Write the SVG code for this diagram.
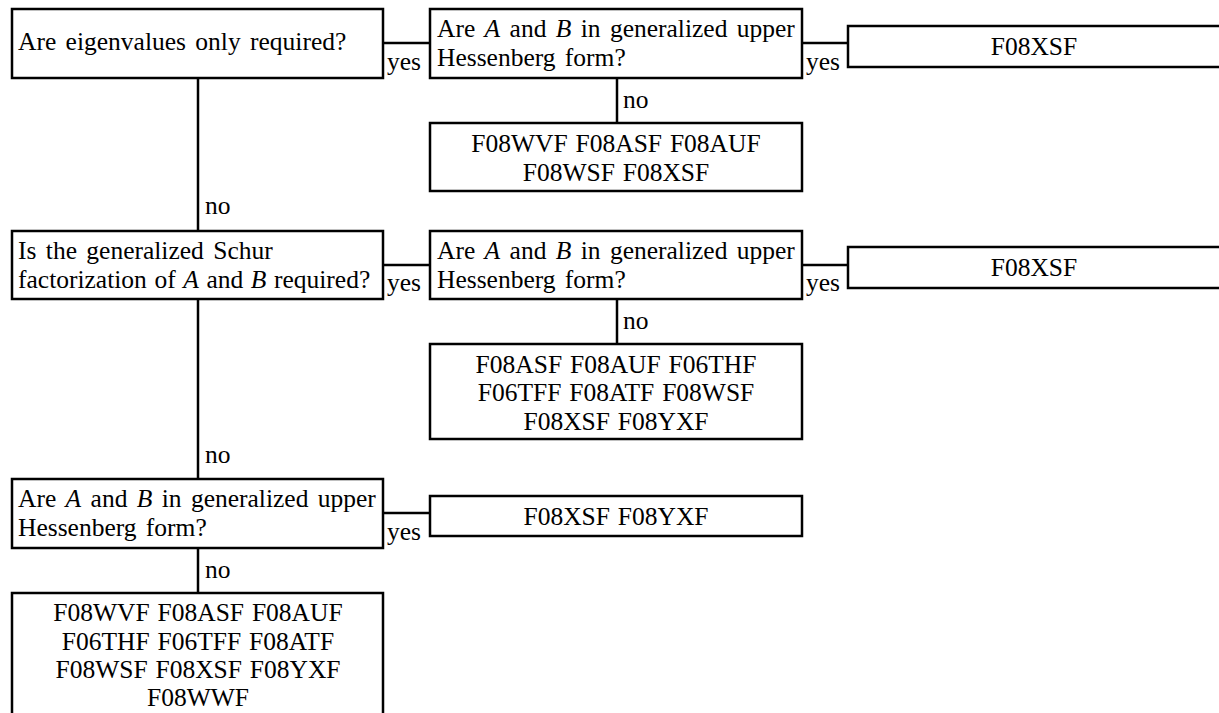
<svg xmlns="http://www.w3.org/2000/svg" width="1219" height="713" viewBox="0 0 1219 713">
<style>
rect{fill:#fff;stroke:#000;stroke-width:2.5}
line{stroke:#000;stroke-width:2.5}
text{font-family:"Liberation Serif","Times New Roman",serif;font-size:25.5px;fill:#000;word-spacing:3px}
.c{text-anchor:middle;word-spacing:1.5px}
.t{word-spacing:1.2px}
.i{font-style:italic}
</style>
<rect x="0" y="0" width="1219" height="713" style="stroke:none"/>
<g id="connectors">
<line x1="383" y1="43" x2="430" y2="43"/>
<line x1="802" y1="43" x2="848" y2="43"/>
<line x1="617" y1="78" x2="617" y2="123"/>
<line x1="198" y1="78" x2="198" y2="231"/>
<line x1="383" y1="265" x2="430" y2="265"/>
<line x1="802" y1="265" x2="848" y2="265"/>
<line x1="617" y1="299" x2="617" y2="344"/>
<line x1="198" y1="299" x2="198" y2="479"/>
<line x1="383" y1="513" x2="430" y2="513"/>
<line x1="198" y1="548" x2="198" y2="593"/>
<text x="387" y="70">yes</text>
<text x="806" y="70">yes</text>
<text x="623" y="108">no</text>
<text x="205" y="214">no</text>
<text x="387" y="291">yes</text>
<text x="806" y="291">yes</text>
<text x="623" y="329">no</text>
<text x="205" y="463">no</text>
<text x="387" y="540">yes</text>
<text x="205" y="578">no</text>
</g>
<g id="q1">
<rect x="12" y="9" width="371" height="69"/>
<text x="18" y="50">Are eigenvalues only required?</text>
</g>
<g id="q2">
<rect x="430" y="9" width="372" height="69"/>
<text x="437" y="37">Are <tspan class="i">A</tspan> and <tspan class="i">B</tspan> in generalized upper</text>
<text x="437" y="66">Hessenberg form?</text>
</g>
<g id="r1">
<rect x="848" y="26" width="375" height="41"/>
<text class="c" x="1034" y="55">F08XSF</text>
</g>
<g id="r2">
<rect x="430" y="123" width="372" height="68"/>
<text class="c" x="616" y="152">F08WVF F08ASF F08AUF</text>
<text class="c" x="616" y="181">F08WSF F08XSF</text>
</g>
<g id="q3">
<rect x="12" y="231" width="371" height="68"/>
<text x="18" y="259">Is the generalized Schur</text>
<text class="t" x="18" y="288">factorization of <tspan class="i">A</tspan> and <tspan class="i">B</tspan> required?</text>
</g>
<g id="q4">
<rect x="430" y="231" width="372" height="68"/>
<text x="437" y="259">Are <tspan class="i">A</tspan> and <tspan class="i">B</tspan> in generalized upper</text>
<text x="437" y="288">Hessenberg form?</text>
</g>
<g id="r3">
<rect x="848" y="247" width="375" height="41"/>
<text class="c" x="1034" y="276">F08XSF</text>
</g>
<g id="r4">
<rect x="430" y="344" width="372" height="95"/>
<text class="c" x="616" y="373">F08ASF F08AUF F06THF</text>
<text class="c" x="616" y="401">F06TFF F08ATF F08WSF</text>
<text class="c" x="616" y="430">F08XSF F08YXF</text>
</g>
<g id="q5">
<rect x="12" y="479" width="371" height="69"/>
<text x="18" y="507">Are <tspan class="i">A</tspan> and <tspan class="i">B</tspan> in generalized upper</text>
<text x="18" y="536">Hessenberg form?</text>
</g>
<g id="r5">
<rect x="430" y="496" width="372" height="40"/>
<text class="c" x="616" y="525">F08XSF F08YXF</text>
</g>
<g id="r6">
<rect x="12" y="593" width="371" height="140"/>
<text class="c" x="198" y="621">F08WVF F08ASF F08AUF</text>
<text class="c" x="198" y="650">F06THF F06TFF F08ATF</text>
<text class="c" x="198" y="678">F08WSF F08XSF F08YXF</text>
<text class="c" x="198" y="706">F08WWF</text>
</g>
</svg>
